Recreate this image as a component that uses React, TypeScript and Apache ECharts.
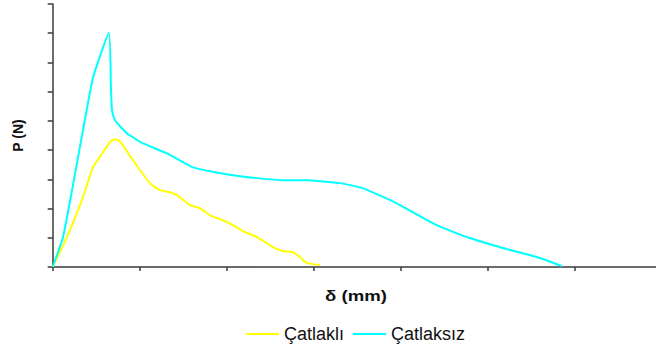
import React, { useEffect, useRef } from "react";
import * as echarts from "echarts";

const seriesNames = ["Çatlaklı", "Çatlaksız"];
const xAxisName = "δ (mm)";
const yAxisName = "P (N)";
const xTicks = [0, 1, 2, 3, 4, 5, 6];

// Çatlaklı (yellow): [δ, P]
const catlakliData: [number, number][] = [
  [0, 0], [0.164, 1.02], [0.348, 2.39], [0.463, 3.41], [0.577, 3.92],
  [0.658, 4.27], [0.715, 4.37], [0.773, 4.3], [0.922, 3.65], [1.117, 2.87],
  [1.232, 2.63], [1.347, 2.56], [1.427, 2.46], [1.577, 2.12], [1.692, 2.01],
  [1.806, 1.77], [1.955, 1.6], [2.07, 1.43], [2.185, 1.23], [2.346, 1.02],
  [2.53, 0.68], [2.64, 0.55], [2.76, 0.51], [2.84, 0.34], [2.92, 0.14],
  [3.07, 0.07],
];

// Çatlaksız (cyan): [δ, P]
const catlaksizData: [number, number][] = [
  [0, 0], [0.118, 1.02], [0.222, 2.63], [0.348, 4.68], [0.463, 6.48],
  [0.646, 8.02], [0.669, 6.14], [0.681, 5.36], [0.715, 5.02], [0.853, 4.57],
  [0.922, 4.44], [1.037, 4.23], [1.312, 3.89], [1.61, 3.41], [2.07, 3.14],
  [2.64, 2.97], [2.92, 2.97], [3.3, 2.87], [3.56, 2.7], [3.95, 2.18],
  [4.41, 1.43], [4.79, 0.99], [5.17, 0.65], [5.56, 0.34], [5.85, 0.03],
];

export default function App() {
  const ref = useRef<HTMLDivElement>(null);
  useEffect(() => {
    if (!ref.current) return;
    const chart = echarts.init(ref.current, null, { renderer: "svg" });
    const axisColor = "#3a3a3a";
    const font = "Liberation Sans, Arial, sans-serif";
    chart.setOption({
      animation: false,
      backgroundColor: "#ffffff",
      textStyle: { fontFamily: font },
      grid: { left: 52.7, right: 0, top: 4, bottom: 82, containLabel: false },
      legend: {
        data: seriesNames,
        top: 320,
        left: 241,
        itemWidth: 33,
        itemHeight: 2,
        itemGap: 9,
        icon: "rect",
        textStyle: { fontSize: 18, color: "#111", fontFamily: font },
      },
      graphic: [
        {
          type: "text",
          x: 356,
          y: 296,
          scaleX: 1.33,
          style: {
            text: xAxisName,
            fontSize: 14,
            fontWeight: "bold",
            fontFamily: font,
            fill: "#111",
            textAlign: "center",
            textVerticalAlign: "middle",
          },
        },
      ],
      xAxis: {
        type: "value",
        min: 0,
        max: 6.93,
        interval: 1,
        axisLine: { show: true, lineStyle: { color: axisColor, width: 1.5 } },
        axisTick: { show: true, inside: false, length: 4, customValues: xTicks, lineStyle: { color: axisColor, width: 1.5 } },
        axisLabel: { show: false },
        splitLine: { show: false },
      },
      yAxis: {
        type: "value",
        min: 0,
        max: 9,
        interval: 1,
        name: yAxisName,
        nameLocation: "middle",
        nameGap: 28,
        nameRotate: 90,
        nameTextStyle: { fontSize: 14, fontWeight: "bold", color: "#111" },
        axisLine: { show: true, lineStyle: { color: axisColor, width: 1.5 } },
        axisTick: { show: true, inside: false, length: 5, lineStyle: { color: axisColor, width: 1.5 } },
        axisLabel: { show: false },
        splitLine: { show: false },
      },
      series: [
        {
          name: seriesNames[0],
          type: "line",
          data: catlakliData,
          symbol: "none",
          smooth: 0.2,
          lineStyle: { color: "#ffff00", width: 2 },
          itemStyle: { color: "#ffff00" },
        },
        {
          name: seriesNames[1],
          type: "line",
          data: catlaksizData,
          symbol: "none",
          smooth: 0.15,
          lineStyle: { color: "#00ffff", width: 2 },
          itemStyle: { color: "#00ffff" },
        },
      ],
    });
    return () => chart.dispose();
  }, []);
  return <div ref={ref} style={{ width: 656, height: 349, position: "absolute", left: 0, top: 0 }} />;
}
